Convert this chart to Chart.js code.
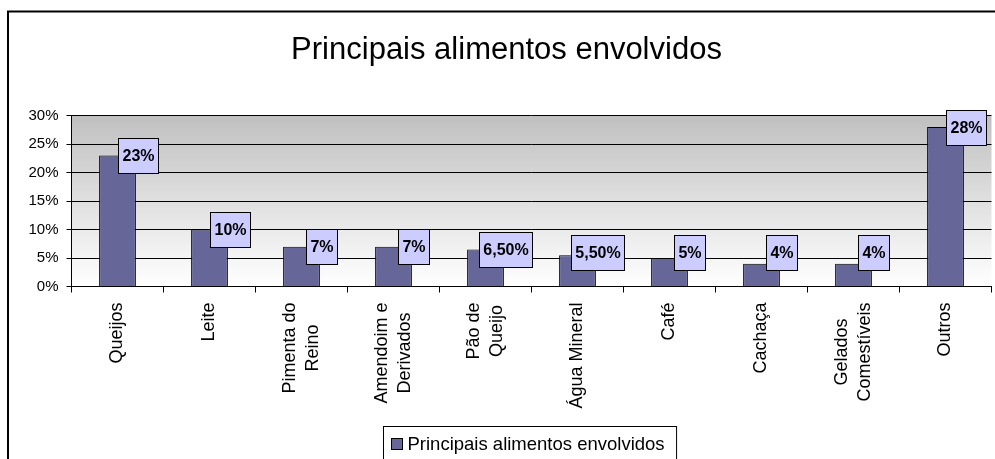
<!DOCTYPE html>
<html>
<head>
<meta charset="utf-8">
<script src="https://cdn.jsdelivr.net/npm/chart.js@4.4.1/dist/chart.umd.min.js"></script>
<style>
  html, body { margin: 0; padding: 0; background: #fff; }
  #wrap { width: 995px; height: 459px; position: relative; }
</style>
</head>
<body>
<div id="wrap"><canvas id="c"></canvas></div>
<script>
const FONT = '"Liberation Sans", Arial, sans-serif';

const titleText = 'Principais alimentos envolvidos';
const seriesName = 'Principais alimentos envolvidos';
const categories = ['Queijos', 'Leite', ['Pimenta do', 'Reino'], ['Amendoim e', 'Derivados'],
  ['Pão de', 'Queijo'], 'Água Mineral', 'Café', 'Cachaça', ['Gelados', 'Comestíveis'], 'Outros'];
const values = [23, 10, 7, 7, 6.5, 5.5, 5, 4, 4, 28];
const yMin = 0, yMax = 30, yStep = 5;

const pct = v => Number.isInteger(v) ? v + '%' : v.toFixed(2).replace('.', ',') + '%';

// background, outer frame and plot gradient
const framePlugin = {
  id: 'frame',
  beforeDraw(chart) {
    const { ctx, chartArea: a } = chart;
    ctx.save();
    ctx.fillStyle = '#fff';
    ctx.fillRect(0, 0, chart.width, chart.height);
    const g = ctx.createLinearGradient(0, a.top, 0, a.bottom);
    g.addColorStop(0, '#c0c0c0');
    g.addColorStop(1, '#ffffff');
    ctx.fillStyle = g;
    ctx.fillRect(a.left, a.top, a.right - a.left, a.bottom - a.top);
    ctx.strokeStyle = '#000';
    ctx.lineWidth = 2;
    ctx.beginPath();
    ctx.moveTo(8, chart.height + 2);
    ctx.lineTo(8, 11.5);
    ctx.lineTo(chart.width + 2, 11.5);
    ctx.stroke();
    ctx.restore();
  }
};

// boxed value labels
const valueLabels = {
  id: 'valueLabels',
  afterDatasetsDraw(chart) {
    const { ctx } = chart;
    const meta = chart.getDatasetMeta(0);
    const y0 = chart.scales.y.getPixelForValue(0);
    ctx.save();
    ctx.font = 'bold 16px ' + FONT;
    ctx.textAlign = 'center';
    ctx.textBaseline = 'middle';
    meta.data.forEach((bar, i) => {
      const t = pct(values[i]);
      const w = Math.round(ctx.measureText(t).width + 8);
      const h = 35;
      const cx = bar.x + bar.width / 2 + 2;
      const cy = Math.min(bar.y, y0 - 34);
      const l = Math.round(cx - w / 2) + 0.5, tp = Math.round(cy - h / 2) + 0.5;
      ctx.fillStyle = '#ccccff';
      ctx.fillRect(l, tp, w, h);
      ctx.strokeStyle = '#000';
      ctx.lineWidth = 1;
      ctx.strokeRect(l, tp, w, h);
      ctx.fillStyle = '#000';
      ctx.fillText(t, l + w / 2, tp + h / 2 + 1);
    });
    ctx.restore();
  }
};

// rotated category labels and boxed legend
const extras = {
  id: 'extras',
  afterDraw(chart) {
    const { ctx, chartArea: a } = chart;
    const xs = chart.scales.x;
    ctx.save();
    ctx.fillStyle = '#000';
    ctx.font = '18px ' + FONT;
    categories.forEach((c, i) => {
      const lines = Array.isArray(c) ? c : [c];
      const maxW = Math.max(...lines.map(s => ctx.measureText(s).width));
      const x = xs.getPixelForValue(i);
      ctx.save();
      ctx.translate(x, a.bottom + 16);
      ctx.rotate(-Math.PI / 2);
      ctx.textAlign = 'center';
      ctx.textBaseline = 'middle';
      lines.forEach((s, j) => ctx.fillText(s, -maxW / 2, (j - (lines.length - 1) / 2) * 23));
      ctx.restore();
    });

    // legend
    ctx.font = '18.5px ' + FONT;
    const tw = ctx.measureText(seriesName).width;
    const w = 8 + 11 + 5 + tw + 12;
    const left = Math.round((a.left + a.right) / 2 - w / 2 - 1.5) + 0.5;
    const top = chart.height - 32.5;
    ctx.fillStyle = '#fff';
    ctx.fillRect(left, top, w, 60);
    ctx.strokeStyle = '#000';
    ctx.lineWidth = 1;
    ctx.strokeRect(left, top, w, 60);
    ctx.fillStyle = '#666699';
    ctx.fillRect(left + 8, top + 12, 11, 11);
    ctx.strokeRect(left + 8, top + 12, 11, 11);
    ctx.fillStyle = '#000';
    ctx.textAlign = 'left';
    ctx.textBaseline = 'middle';
    ctx.fillText(seriesName, left + 8 + 11 + 5, top + 18);
    ctx.restore();
  }
};

new Chart(document.getElementById('c'), {
  type: 'bar',
  data: {
    labels: categories,
    datasets: [{
      label: seriesName,
      data: values,
      backgroundColor: '#666699',
      borderColor: '#000',
      borderWidth: 1,
      barPercentage: 0.4,
      categoryPercentage: 1
    }]
  },
  options: {
    responsive: true,
    maintainAspectRatio: false,
    animation: false,
    layout: { padding: { left: 21.5, right: 3.5, top: 0, bottom: 0 } },
    plugins: {
      legend: { display: false },
      tooltip: { enabled: false },
      title: {
        display: true,
        text: titleText,
        color: '#000',
        font: { family: FONT, size: 31, weight: 'normal', lineHeight: 1.2 },
        padding: { top: 32, bottom: 46.5 }
      }
    },
    scales: {
      x: {
        ticks: { display: false },
        grid: { drawOnChartArea: false, drawTicks: true, tickLength: 6, color: '#000' },
        border: { display: true, color: '#000', width: 1 },
        afterFit(scale) { scale.height = 172.5; }
      },
      y: {
        min: yMin,
        max: yMax,
        ticks: {
          stepSize: yStep,
          color: '#000',
          padding: 8,
          font: { family: FONT, size: 15 },
          callback: v => v + '%'
        },
        grid: { color: '#000', tickLength: 5, drawTicks: true },
        border: { display: true, color: '#000', width: 1 },
        afterFit(scale) { scale.width = 50; }
      }
    }
  },
  plugins: [framePlugin, valueLabels, extras]
});
</script>
</body>
</html>
